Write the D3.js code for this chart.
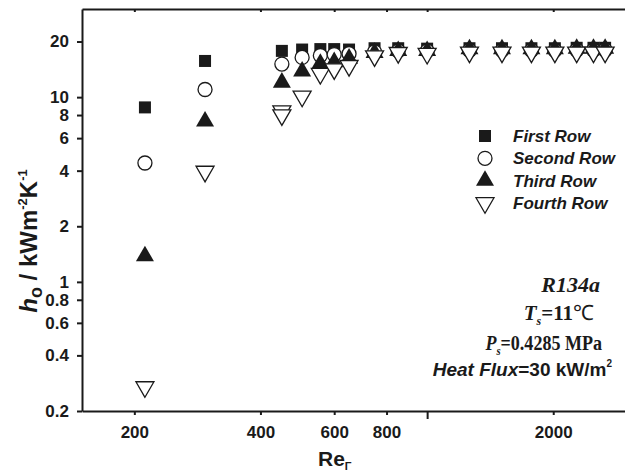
<!DOCTYPE html>
<html>
<head>
<meta charset="utf-8">
<script src="https://cdn.jsdelivr.net/npm/d3@7"></script>
<style>
  body { margin: 0; background: #fff; }
  svg { display: block; }
  .axis text { font-family: "Liberation Sans", Arial, sans-serif; font-weight: bold; font-size: 17px; fill: #1a1a1a; }
  .axis path, .axis line { stroke: #1a1a1a; stroke-width: 2; }
</style>
</head>
<body>
<div id="chart"></div>
<script>
// Re_Gamma values (x) shared by rows 1-3
const reValues = [212, 295, 450, 503, 556, 600, 651, 749, 853, 1000, 1262, 1509, 1774, 2018, 2275, 2495, 2660];
const firstRow  = [8.8, 15.7, 17.8, 18.1, 18.2, 18.2, 18.1, 18.4, 18.4, 18.3, 18.4, 18.4, 18.4, 18.4, 18.5, 18.5, 18.5];
const secondRow = [4.4, 11.0, 15.1, 16.4, 16.8, 17.0, 17.2, 17.6, 17.8, 17.8, 17.9, 17.9, 17.9, 17.9, 18.0, 18.0, 18.0];
const thirdRow  = [1.38, 7.4, 12.0, 13.8, 15.2, 15.5, 16.2, 17.4, 17.8, 17.8, 18.2, 18.2, 18.2, 18.2, 18.3, 18.3, 18.3];
// fourth row has one extra point near Re = 450
const fourthRe  = [212, 295, 450, 450, 503, 556, 600, 651, 749, 853, 1000, 1262, 1509, 1774, 2018, 2275, 2495, 2660];
const fourthRow = [0.27, 3.96, 8.4, 8.0, 10.1, 13.4, 14.2, 14.8, 16.7, 17.4, 17.2, 17.5, 17.5, 17.5, 17.5, 17.5, 17.5, 17.5];

const xTicks = [200, 400, 600, 800, 1000, 2000];
const xLabels = ["200", "400", "600", "800", "", "2000"];
const yTicks = [0.2, 0.4, 0.6, 0.8, 1, 2, 4, 6, 8, 10, 20];
const legendNames = ["First Row", "Second Row", "Third Row", "Fourth Row"];

const svgWidth = 625, svgHeight = 474;
const margin = { left: 82, right: 627, top: 9, bottom: 411 };
const ink = "#1a1a1a";

const svg = d3.select("#chart").append("svg")
  .attr("width", svgWidth)
  .attr("height", svgHeight);

const x = d3.scaleLog().domain([150, 3000]).range([margin.left, margin.right]);
const y = d3.scaleLog().domain([0.2, 30]).range([margin.bottom, margin.top]);

// triangle path centred on its centroid
function tri(s, up) {
  const h = s * Math.sqrt(3) / 2;
  const k = up ? 1 : -1;
  return `M0,${-k * 2 * h / 3}L${-s / 2},${k * h / 3}L${s / 2},${k * h / 3}Z`;
}

const markers = [
  g => g.append("rect").attr("x", -6).attr("y", -6).attr("width", 12).attr("height", 12).attr("fill", ink),
  g => g.append("circle").attr("r", 7).attr("fill", "#fff").attr("stroke", ink).attr("stroke-width", 1.3),
  g => g.append("path").attr("d", tri(18, true)).attr("fill", ink),
  g => g.append("path").attr("d", tri(18, false)).attr("fill", "#fff").attr("stroke", ink).attr("stroke-width", 1.3)
];

// axes
const xAxis = svg.append("g")
  .attr("class", "axis")
  .attr("transform", `translate(0,${margin.bottom})`)
  .call(d3.axisBottom(x).tickValues(xTicks).tickFormat((d, i) => xLabels[i]).tickSizeInner(4).tickSizeOuter(0).tickPadding(11));
xAxis.selectAll(".tick line").attr("y2", d => d === 1000 ? 8 : 4);

svg.append("g")
  .attr("class", "axis")
  .attr("transform", `translate(0,${margin.top})`)
  .call(d3.axisTop(x).tickValues(xTicks).tickFormat("").tickSizeInner(-3).tickSizeOuter(0));

svg.append("g")
  .attr("class", "axis")
  .attr("transform", `translate(${margin.left},0)`)
  .call(d3.axisLeft(y).tickValues(yTicks).tickFormat(d3.format("~g")).tickSizeInner(5).tickSizeOuter(0).tickPadding(8));

// data series
const series = [
  { xs: reValues, ys: firstRow },
  { xs: reValues, ys: secondRow },
  { xs: reValues, ys: thirdRow },
  { xs: fourthRe, ys: fourthRow }
];

series.forEach((s, k) => {
  const pts = svg.append("g").selectAll("g")
    .data(s.ys.map((v, i) => ({ re: s.xs[i], h: v })))
    .enter().append("g")
    .attr("transform", d => `translate(${x(d.re)},${y(d.h)})`);
  markers[k](pts);
});

// legend
const legend = svg.append("g");
legendNames.forEach((name, i) => {
  const row = legend.append("g").attr("transform", `translate(485,${136 + i * 22.3})`);
  markers[i](row);
  row.append("text")
    .attr("x", 28)
    .attr("y", 6)
    .style("font-family", "'Liberation Sans', Arial, sans-serif")
    .style("font-weight", "bold")
    .style("font-style", "italic")
    .style("font-size", "17px")
    .style("fill", ink)
    .text(name);
});

// conditions text
const serif = "'Liberation Serif', 'Times New Roman', serif";
const note = svg.append("g").style("fill", ink).style("font-weight", "bold");

note.append("text").attr("x", 600).attr("y", 292).attr("text-anchor", "end")
  .style("font-family", serif).style("font-style", "italic").style("font-size", "22px")
  .text("R134a");

const t2 = note.append("text").attr("x", 594).attr("y", 320).attr("text-anchor", "end")
  .style("font-family", serif).style("font-size", "21px");
t2.append("tspan").style("font-style", "italic").text("T");
t2.append("tspan").style("font-style", "italic").style("font-size", "12px").attr("dy", 5).text("s");
t2.append("tspan").attr("dy", -5).text("=11");
t2.append("tspan").style("font-weight", "normal").text("℃");

// this line is narrower in the original, squeeze it a bit
const t3 = note.append("g").attr("transform", "translate(602,350) scale(0.82,1)")
  .append("text").attr("text-anchor", "end")
  .style("font-family", serif).style("font-weight", "bold").style("font-size", "22px");
t3.append("tspan").style("font-style", "italic").text("P");
t3.append("tspan").style("font-style", "italic").style("font-size", "13px").attr("dy", 5).text("s");
t3.append("tspan").attr("dy", -5).text("=0.4285 MPa");

const t4 = note.append("text").attr("x", 612).attr("y", 376).attr("text-anchor", "end")
  .style("font-family", "'Liberation Sans', Arial, sans-serif").style("font-size", "19px");
t4.append("tspan").style("font-style", "italic").text("Heat Flux");
t4.append("tspan").text("=30 kW/m");
t4.append("tspan").style("font-size", "10px").attr("dy", -9).text("2");

// axis titles
const xt = svg.append("text").attr("x", 318).attr("y", 466)
  .style("font-family", "'Liberation Sans', Arial, sans-serif").style("font-weight", "bold")
  .style("font-size", "21px").style("fill", ink);
xt.append("tspan").text("Re");
xt.append("tspan").style("font-size", "11px").style("fill", ink).attr("dy", 4).text("Γ");

const yt = svg.append("text")
  .attr("transform", "translate(37,241) rotate(-90)")
  .attr("text-anchor", "middle")
  .style("font-family", "'Liberation Sans', Arial, sans-serif").style("font-weight", "bold")
  .style("font-size", "24px").style("fill", ink);
yt.append("tspan").style("font-style", "italic").text("h");
yt.append("tspan").style("font-size", "18px").attr("dy", 5).text("o");
yt.append("tspan").attr("dy", -5).text(" / kWm");
yt.append("tspan").style("font-size", "13px").attr("dy", -10).text("-2");
yt.append("tspan").attr("dy", 10).text("K");
yt.append("tspan").style("font-size", "13px").attr("dy", -10).text("-1");
</script>
</body>
</html>
